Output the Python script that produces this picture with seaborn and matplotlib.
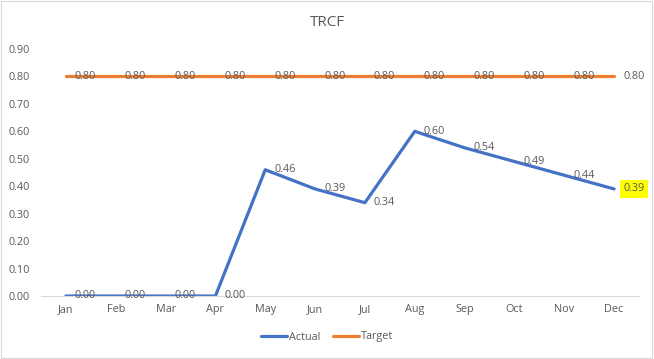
import matplotlib
matplotlib.use("Agg")
import matplotlib.pyplot as plt
import seaborn as sns
import pandas as pd
from matplotlib.patches import Rectangle
from matplotlib.lines import Line2D

months = ["Jan", "Feb", "Mar", "Apr", "May", "Jun", "Jul", "Aug", "Sep", "Oct", "Nov", "Dec"]
actual = [0.00, 0.00, 0.00, 0.00, 0.46, 0.39, 0.34, 0.60, 0.54, 0.49, 0.44, 0.39]
target = [0.80] * 12
yticks = [0.0, 0.1, 0.2, 0.3, 0.4, 0.5, 0.6, 0.7, 0.8, 0.9]

sns.set_theme(style="white")
plt.rcParams['font.family'] = ['Open Sans', 'DejaVu Sans']

df = pd.DataFrame({
    "Month": months * 2,
    "Value": actual + target,
    "Series": ["Actual"] * 12 + ["Target"] * 12,
})
df["x"] = list(range(12)) * 2

fig = plt.figure(figsize=(6.54, 3.59), dpi=100)
ax = fig.add_axes([41/654, 63/359, 598/654, 247/359])
palette = {"Actual": "#4472C4", "Target": "#ED7D31"}
sns.lineplot(data=df, x="x", y="Value", hue="Series", palette=palette,
             linewidth=2.3, ax=ax, legend=False, sort=False)

txtc = "#595959"
fs = 7.8
for i, v in enumerate(target):
    ax.annotate(f"{v:.2f}", (i, v), xytext=(6.5, 0), textcoords="offset points",
                ha="left", va="center", fontsize=fs, color=txtc)
for i, v in enumerate(actual):
    kw = {}
    if i == len(actual) - 1:
        kw["bbox"] = dict(boxstyle="square,pad=0.3", fc="#FFFF00", ec="none")
    ax.annotate(f"{v:.2f}", (i, v), xytext=(6.5, 0), textcoords="offset points",
                ha="left", va="center", fontsize=fs, color=txtc, **kw)

ax.set_xlim(-0.5, 11.5)
ax.set_ylim(0, 0.9)
ax.set_xticks(range(12))
ax.set_xticklabels(months)
ax.set_yticks(yticks)
ax.set_yticklabels([f"{t:.2f}" for t in yticks])
ax.tick_params(axis="both", length=0, labelsize=fs, colors=txtc)
ax.tick_params(axis="y", pad=8)
ax.tick_params(axis="x", pad=6)
ax.set_xlabel("")
ax.set_ylabel("")
for s in ["top", "right", "left"]:
    ax.spines[s].set_visible(False)
ax.spines["bottom"].set_color("#D9D9D9")
ax.spines["bottom"].set_linewidth(0.8)
ax.patch.set_alpha(0)

fig.text(0.5, 1 - 23/359, "TRCF", ha="center", va="center", fontsize=11, color=txtc)

handles = [Line2D([], [], color=palette["Actual"], lw=2.3),
           Line2D([], [], color=palette["Target"], lw=2.3)]
fig.legend(handles, ["Actual", "Target"], loc="center", bbox_to_anchor=(0.5, 1 - 337/359),
           ncol=2, frameon=False, fontsize=fs, handlelength=2.4, handletextpad=0.15,
           columnspacing=1.2, labelcolor=txtc)

fig.patches.append(Rectangle((0.002, 0.003), 0.995, 0.993, transform=fig.transFigure,
                             fill=False, ec="#D9D9D9", lw=0.8))
fig.savefig("out.png", dpi=100)
